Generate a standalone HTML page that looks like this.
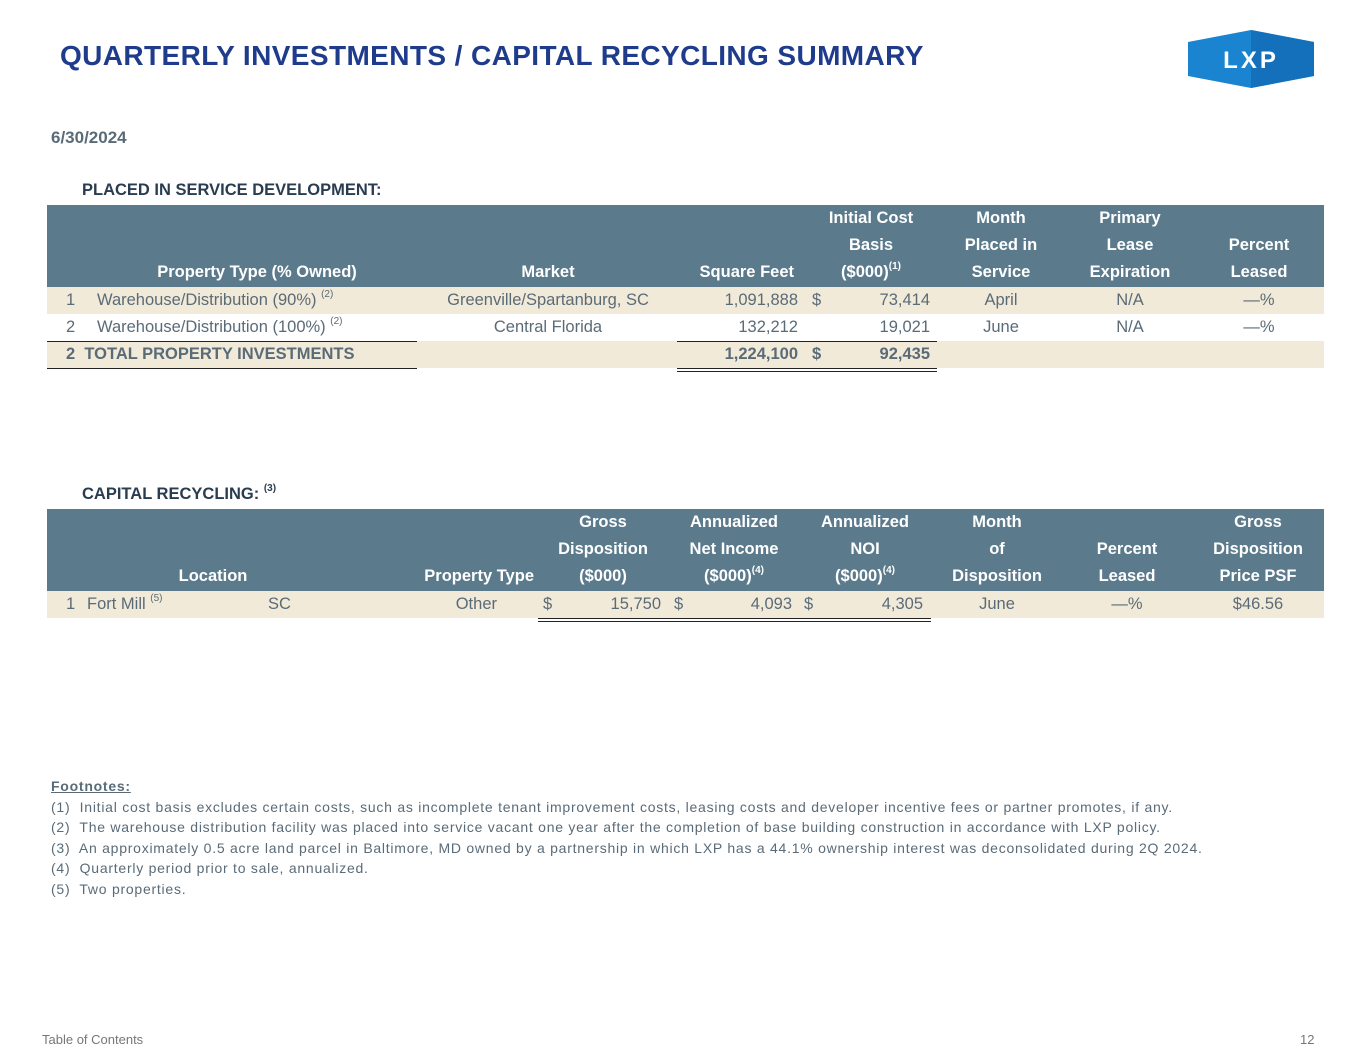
<!DOCTYPE html>
<html><head><meta charset="utf-8">
<style>
body{margin:0;width:1365px;height:1055px;background:#fff;position:relative;overflow:hidden;font-family:"Liberation Sans",sans-serif;color:#5a6b78}
.a{position:absolute;white-space:nowrap}
.hd{position:absolute;background:#5b7b8d}
.bg{position:absolute;background:#f2ead8}
.h{position:absolute;color:#fff;font-weight:bold;font-size:16.5px;text-align:center;line-height:27px}
.c{font-size:16.5px;line-height:27px}
.r{text-align:right}
.ln{position:absolute;height:1px;background:#222}
sup{font-size:10px;line-height:0;vertical-align:baseline;position:relative;top:-8px}
.title{color:#1f3c8c;font-weight:bold;font-size:28px;letter-spacing:0.4px}
</style></head><body>
<div class="a title" style="left:60px;top:40px">QUARTERLY INVESTMENTS / CAPITAL RECYCLING SUMMARY</div>
<svg class="a" style="left:1188px;top:30px" width="126" height="58" viewBox="0 0 126 58">
<polygon points="0,12 63,0 126,12 126,46 63,58 0,46" fill="#1a84d0"/>
<polygon points="63,0 126,12 126,46 63,58" fill="#1570bb"/>
<text x="63" y="38" text-anchor="middle" fill="#fff" font-family="Liberation Sans" font-weight="bold" font-size="24" letter-spacing="3">LXP</text>
</svg>
<div class="a" style="left:51px;top:128px;font-weight:bold;font-size:17px">6/30/2024</div>

<div class="a" style="left:82px;top:181px;font-weight:bold;font-size:16.5px;color:#2a3c50">PLACED IN SERVICE DEVELOPMENT:</div>
<div class="hd" style="left:47px;top:205px;width:1277px;height:82px"></div>
<div class="h" style="left:97px;top:259px;width:320px">Property Type (% Owned)</div>
<div class="h" style="left:428px;top:259px;width:240px">Market</div>
<div class="h r" style="left:670px;top:259px;width:124px">Square Feet</div>
<div class="h" style="left:806px;top:205px;width:130px">Initial Cost<br>Basis<br>($000)<sup>(1)</sup></div>
<div class="h" style="left:940px;top:205px;width:122px">Month<br>Placed in<br>Service</div>
<div class="h" style="left:1068px;top:205px;width:124px">Primary<br>Lease<br>Expiration</div>
<div class="h" style="left:1198px;top:232px;width:122px">Percent<br>Leased</div>

<div class="bg" style="left:47px;top:287px;width:1277px;height:27px"></div>
<div class="bg" style="left:47px;top:341px;width:1277px;height:27px"></div>
<div class="a c" style="left:0;top:287px;width:1365px;height:27px">
<span class="a" style="left:66px">1</span><span class="a" style="left:97px">Warehouse/Distribution (90%) <sup>(2)</sup></span>
<span class="a" style="left:428px;width:240px;text-align:center">Greenville/Spartanburg, SC</span>
<span class="a r" style="left:670px;width:128px">1,091,888</span><span class="a" style="left:812px">$</span>
<span class="a r" style="left:840px;width:90px">73,414</span>
<span class="a" style="left:940px;width:122px;text-align:center">April</span>
<span class="a" style="left:1068px;width:124px;text-align:center">N/A</span>
<span class="a" style="left:1198px;width:122px;text-align:center">—%</span></div>
<div class="a c" style="left:0;top:314px;width:1365px;height:27px">
<span class="a" style="left:66px">2</span><span class="a" style="left:97px">Warehouse/Distribution (100%) <sup>(2)</sup></span>
<span class="a" style="left:428px;width:240px;text-align:center">Central Florida</span>
<span class="a r" style="left:670px;width:128px">132,212</span>
<span class="a r" style="left:840px;width:90px">19,021</span>
<span class="a" style="left:940px;width:122px;text-align:center">June</span>
<span class="a" style="left:1068px;width:124px;text-align:center">N/A</span>
<span class="a" style="left:1198px;width:122px;text-align:center">—%</span></div>
<div class="a c" style="left:0;top:341px;width:1365px;height:27px;font-weight:bold">
<span class="a" style="left:66px">2&nbsp; TOTAL PROPERTY INVESTMENTS</span>
<span class="a r" style="left:670px;width:128px">1,224,100</span><span class="a" style="left:812px">$</span>
<span class="a r" style="left:840px;width:90px">92,435</span></div>
<div class="ln" style="left:47px;top:341px;width:370px"></div>
<div class="ln" style="left:47px;top:368px;width:370px"></div>
<div class="ln" style="left:677px;top:341px;width:260px"></div>
<div class="ln" style="left:677px;top:368px;width:260px"></div>
<div class="ln" style="left:677px;top:371px;width:260px"></div>

<div class="a" style="left:82px;top:485px;font-weight:bold;font-size:16.5px;color:#2a3c50">CAPITAL RECYCLING: <sup>(3)</sup></div>
<div class="hd" style="left:47px;top:509px;width:1277px;height:82px"></div>
<div class="h" style="left:120px;top:563px;width:186px">Location</div>
<div class="h r" style="left:380px;top:563px;width:154px">Property Type</div>
<div class="h" style="left:540px;top:509px;width:126px">Gross<br>Disposition<br>($000)</div>
<div class="h" style="left:670px;top:509px;width:128px">Annualized<br>Net Income<br>($000)<sup>(4)</sup></div>
<div class="h" style="left:802px;top:509px;width:126px">Annualized<br>NOI<br>($000)<sup>(4)</sup></div>
<div class="h" style="left:936px;top:509px;width:122px">Month<br>of<br>Disposition</div>
<div class="h" style="left:1066px;top:536px;width:122px">Percent<br>Leased</div>
<div class="h" style="left:1196px;top:509px;width:124px">Gross<br>Disposition<br>Price PSF</div>
<div class="bg" style="left:47px;top:591px;width:1277px;height:27px"></div>
<div class="a c" style="left:0;top:591px;width:1365px;height:27px">
<span class="a" style="left:66px">1</span><span class="a" style="left:87px">Fort Mill <sup>(5)</sup></span>
<span class="a" style="left:268px">SC</span>
<span class="a r" style="left:400px;width:97px">Other</span>
<span class="a" style="left:543px">$</span><span class="a r" style="left:570px;width:91px">15,750</span>
<span class="a" style="left:674px">$</span><span class="a r" style="left:700px;width:92px">4,093</span>
<span class="a" style="left:804px">$</span><span class="a r" style="left:830px;width:93px">4,305</span>
<span class="a" style="left:936px;width:122px;text-align:center">June</span>
<span class="a" style="left:1066px;width:122px;text-align:center">—%</span>
<span class="a" style="left:1196px;width:124px;text-align:center">$46.56</span></div>
<div class="ln" style="left:538px;top:618px;width:393px"></div>
<div class="ln" style="left:538px;top:621px;width:393px"></div>

<div class="a" style="left:51px;top:776px;font-size:14px;letter-spacing:0.75px;line-height:20.5px;color:#5a6b78">
<span style="font-weight:bold;text-decoration:underline">Footnotes:</span><br>
(1)&nbsp; Initial cost basis excludes certain costs, such as incomplete tenant improvement costs, leasing costs and developer incentive fees or partner promotes, if any.<br>
(2)&nbsp; The warehouse distribution facility was placed into service vacant one year after the completion of base building construction in accordance with LXP policy.<br>
(3)&nbsp; An approximately 0.5 acre land parcel in Baltimore, MD owned by a partnership in which LXP has a 44.1% ownership interest was deconsolidated during 2Q 2024.<br>
(4)&nbsp; Quarterly period prior to sale, annualized.<br>
(5)&nbsp; Two properties.</div>

<div class="a" style="left:42px;top:1032px;font-size:13px;color:#777">Table of Contents</div>
<div class="a" style="left:1300px;top:1032px;font-size:13px;color:#777">12</div>
</body></html>
